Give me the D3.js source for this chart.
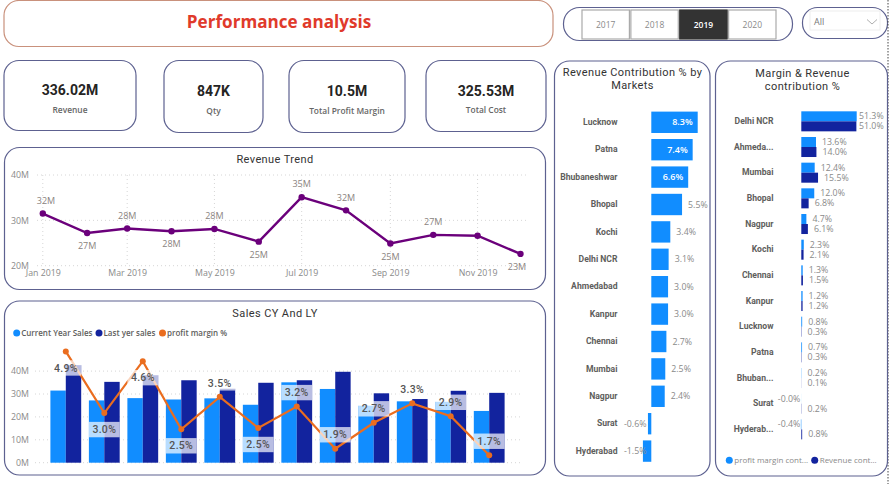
<!DOCTYPE html>
<html lang="en">
<head>
  <meta charset="UTF-8">
  <script src="https://cdn.jsdelivr.net/npm/d3@7"></script>
  <title>Performance analysis</title>
  <style>
    html, body { margin: 0; padding: 0; background: #fff; overflow: hidden; }
    svg { display: block; }
    .axis .domain { display: none; }
    .grid line { stroke: #d6d6d6; stroke-dasharray: 1 3; }
  </style>
</head>
<body>
  <svg></svg>
</body>
<script>
const width = 889;
const height = 484;

const titleFont = 'Roboto, sans-serif';
const labelFont = '"Open Sans", sans-serif';

// data
const years = ['2017', '2018', '2019', '2020'];
const selectedYear = '2019';
const kpiValues = ['336.02M', '847K', '10.5M', '325.53M'];
const kpiLabels = ['Revenue', 'Qty', 'Total Profit Margin', 'Total Cost'];

const months = ['2019-01-01', '2019-02-01', '2019-03-01', '2019-04-01', '2019-05-01', '2019-06-01',
  '2019-07-01', '2019-08-01', '2019-09-01', '2019-10-01', '2019-11-01', '2019-12-01'];
const revenue = [31.5, 27.2, 28.2, 27.6, 28.1, 25.3, 35.1, 32.2, 24.9, 26.8, 26.6, 22.6];
const lastYearSales = [42.6, 35.3, 38.2, 36.0, 32.3, 34.9, 36.0, 39.7, 30.3, 27.8, 31.4, 30.5];
const profitMargin = [4.9, 3.0, 4.6, 2.5, 3.5, 2.54, 3.2, 1.9, 2.7, 3.3, 2.9, 1.7];
const trendTicks = ['2019-01-01', '2019-03-01', '2019-05-01', '2019-07-01', '2019-09-01', '2019-11-01'];
// which side of the point each label sits on, 0 = no label
const trendLabelSide = [-1, 1, -1, 1, -1, 1, -1, -1, 1, -1, 0, 1];
const marginLabelSide = [1, 1, 1, 1, -1, 1, -1, -1, -1, -1, -1, -1];

const markets = ['Lucknow', 'Patna', 'Bhubaneshwar', 'Bhopal', 'Kochi', 'Delhi NCR', 'Ahmedabad',
  'Kanpur', 'Chennai', 'Mumbai', 'Nagpur', 'Surat', 'Hyderabad'];
const marketContribution = [8.3, 7.4, 6.6, 5.5, 3.4, 3.1, 3.0, 3.0, 2.7, 2.5, 2.4, -0.6, -1.5];

const marginMarkets = ['Delhi NCR', 'Ahmeda...', 'Mumbai', 'Bhopal', 'Nagpur', 'Kochi', 'Chennai',
  'Kanpur', 'Lucknow', 'Patna', 'Bhuban...', 'Surat', 'Hyderab...'];
const marginContribution = [51.3, 13.6, 12.4, 12.0, 4.7, 2.3, 1.3, 1.2, 0.8, 0.7, 0.2, -0.04, -0.4];
const revenueContribution = [51.0, 14.0, 15.5, 6.8, 6.1, 2.1, 1.5, 1.2, 0.3, 0.3, 0.1, 0.2, 0.8];

const colors = { cy: '#118DFF', ly: '#12239E', margin: '#EA6D1F', trend: '#6B007B' };

const svg = d3.select('svg').attr('width', width).attr('height', height)
  .attr('viewBox', `0 0 ${width} ${height}`);
const parseDate = d3.utcParse('%Y-%m-%d');
const pct = v => `${v.toFixed(1)}%`;

const addText = (layer, x, y, str, size, fill, opts = {}) => layer.append('text')
  .attr('x', x).attr('y', y).attr('dy', '0.35em')
  .attr('text-anchor', opts.anchor || 'middle')
  .attr('font-family', opts.font || labelFont)
  .attr('font-size', size)
  .attr('font-weight', opts.weight || 400)
  .attr('letter-spacing', opts.spacing || 0)
  .attr('fill', fill)
  .text(str);

const addPanel = (x, y, w, h, r = 15, stroke = '#5d6190') => svg.append('rect')
  .attr('x', x).attr('y', y).attr('width', w).attr('height', h).attr('rx', r)
  .attr('fill', '#fff').attr('stroke', stroke).attr('stroke-width', 1.2);

const styleAxis = (g, size, fill, weight = 400, font = labelFont) => {
  g.attr('class', 'axis');
  g.selectAll('text').attr('font-family', font).attr('font-size', size)
    .attr('font-weight', weight).attr('fill', fill);
  g.selectAll('.tick line').attr('stroke', 'none');
};

const paintHeader = () => {
  addPanel(4, 0.5, 549, 46, 15, '#c9917c');
  addText(svg, 279, 22, 'Performance analysis', 17.1, '#E03A2B', { weight: 700 });

  addPanel(563.5, 7.5, 229, 33, 16);
  const buttonX = d3.scaleBand().domain(years).range([582, 776]).paddingInner(0.03);
  years.forEach(year => {
    const on = year === selectedYear;
    svg.append('rect').attr('x', buttonX(year)).attr('y', 10).attr('width', buttonX.bandwidth())
      .attr('height', 29).attr('fill', on ? '#333' : '#fff')
      .attr('stroke', on ? '#333' : '#aaa').attr('stroke-width', 1.2);
    addText(svg, buttonX(year) + buttonX.bandwidth() / 2, 25, year, 8.5, on ? '#fff' : '#8a8a8a',
      { weight: on ? 600 : 400 });
  });

  addPanel(802.5, 7.5, 85, 31, 15);
  svg.append('rect').attr('x', 810).attr('y', 11).attr('width', 70).attr('height', 19)
    .attr('fill', '#fff').attr('stroke', '#eee');
  addText(svg, 814, 22, 'All', 9, '#777', { anchor: 'start' });
  svg.append('path').attr('d', 'M867 19.5 L872 24 L877 19.5').attr('fill', 'none')
    .attr('stroke', '#999').attr('stroke-width', 0.8);

  svg.append('line').attr('x1', 888).attr('x2', 888).attr('y1', 0).attr('y2', height)
    .attr('stroke', '#444').attr('stroke-dasharray', '1.5 1.5');
};

const paintKpis = () => {
  const cards = [
    { x: 4, w: 132, h: 70, vy: 90, ly: 110 },
    { x: 164, w: 99, h: 72, vy: 91, ly: 111 },
    { x: 289, w: 116, h: 72, vy: 91, ly: 111 },
    { x: 426, w: 120, h: 71, vy: 91, ly: 110 }
  ];
  cards.forEach((card, i) => {
    addPanel(card.x, 60.5, card.w, card.h);
    const cx = card.x + card.w / 2;
    addText(svg, cx, card.vy, kpiValues[i], 14, '#252423', { font: titleFont, weight: 700 });
    addText(svg, cx, card.ly, kpiLabels[i], 8.4, '#666', { weight: 600 });
  });
};

const paintTrend = () => {
  addPanel(4.5, 147.5, 541, 142);
  addText(svg, 275, 159, 'Revenue Trend', 11, '#333', { font: titleFont, spacing: 0.4 });

  const dates = months.map(parseDate);
  const x = d3.scaleUtc().domain(d3.extent(dates)).range([42.8, 520.5]);
  const y = d3.scaleLinear().domain([20, 40]).range([265.7, 175]);
  const tickDates = trendTicks.map(parseDate);

  const grid = svg.append('g').attr('class', 'grid');
  grid.selectAll('.h').data(y.ticks(2)).enter().append('line').attr('class', 'h')
    .attr('x1', 37).attr('x2', 528).attr('y1', y).attr('y2', y);
  grid.selectAll('.v').data(tickDates).enter().append('line').attr('class', 'v')
    .attr('x1', x).attr('x2', x).attr('y1', y(40)).attr('y2', y(20));

  svg.append('g').attr('transform', 'translate(33,0)')
    .call(d3.axisLeft(y).ticks(2).tickFormat(d => `${d}M`).tickSize(0).tickPadding(4))
    .call(styleAxis, 8.8, '#8a8a8a');
  svg.append('g').attr('transform', `translate(0,${y(20) + 3})`)
    .call(d3.axisBottom(x).tickValues(tickDates).tickFormat(d3.utcFormat('%b %Y')).tickSize(0).tickPadding(1))
    .call(styleAxis, 8.8, '#8a8a8a');

  const line = d3.line().x(d => x(d[0])).y(d => y(d[1]));
  const points = dates.map((d, i) => [d, revenue[i]]);
  svg.append('path').attr('d', line(points)).attr('fill', 'none')
    .attr('stroke', colors.trend).attr('stroke-width', 2.4);
  svg.selectAll('.trend-pt').data(points).enter().append('circle').attr('class', 'trend-pt')
    .attr('cx', d => x(d[0])).attr('cy', d => y(d[1])).attr('r', 3.2).attr('fill', colors.trend);

  points.forEach((d, i) => {
    if (!trendLabelSide[i]) return;
    const tx = Math.min(Math.max(x(d[0]), 46), 517);
    addText(svg, tx, y(d[1]) + trendLabelSide[i] * 13, `${Math.round(d[1])}M`, 9, '#8a8380');
  });
};

const paintCombo = () => {
  addPanel(4.5, 301, 541, 174);
  addText(svg, 275, 313, 'Sales CY And LY', 11, '#333', { font: titleFont, spacing: 0.4 });

  const legend = [
    { name: 'Current Year Sales', color: colors.cy, x: 16.7 },
    { name: 'Last yer sales', color: colors.ly, x: 99 },
    { name: 'profit margin %', color: colors.margin, x: 162.5 }
  ];
  legend.forEach(item => {
    svg.append('circle').attr('cx', item.x).attr('cy', 333).attr('r', 3.5).attr('fill', item.color);
    addText(svg, item.x + 4.5, 333, item.name, 8, '#605E5C', { anchor: 'start', weight: 600 });
  });

  const x = d3.scaleBand().domain(months).range([35, 520]).paddingInner(0.2).paddingOuter(0.4);
  const xSub = d3.scaleBand().domain(['cy', 'ly']).range([0, x.bandwidth()]);
  const y = d3.scaleLinear().domain([0, 50]).range([462.7, 348.2]);
  const yMargin = d3.scaleLinear().domain([1.47, 5]).range([462.7, 348.2]);

  svg.append('g').attr('class', 'grid').selectAll('line').data(d3.range(0, 50, 10)).enter().append('line')
    .attr('x1', 35).attr('x2', 520).attr('y1', y).attr('y2', y);
  svg.append('g').attr('transform', 'translate(33,0)')
    .call(d3.axisLeft(y).tickValues(d3.range(0, 50, 10)).tickFormat(d => `${d}M`).tickSize(0).tickPadding(4))
    .call(styleAxis, 8.8, '#8a8a8a');

  svg.selectAll('.bar-cy').data(months).enter().append('rect').attr('class', 'bar-cy')
    .attr('x', d => x(d) + xSub('cy')).attr('width', xSub.bandwidth())
    .attr('y', (d, i) => y(revenue[i])).attr('height', (d, i) => y(0) - y(revenue[i]))
    .attr('fill', colors.cy);
  svg.selectAll('.bar-ly').data(months).enter().append('rect').attr('class', 'bar-ly')
    .attr('x', d => x(d) + xSub('ly')).attr('width', xSub.bandwidth())
    .attr('y', (d, i) => y(lastYearSales[i])).attr('height', (d, i) => y(0) - y(lastYearSales[i]))
    .attr('fill', colors.ly);

  const cx = d => x(d) + x.bandwidth() / 2;
  const line = d3.line().x(d => cx(d)).y((d, i) => yMargin(profitMargin[i]));
  svg.append('path').attr('d', line(months)).attr('fill', 'none')
    .attr('stroke', colors.margin).attr('stroke-width', 2.2);
  svg.selectAll('.margin-pt').data(months).enter().append('circle').attr('class', 'margin-pt')
    .attr('cx', cx).attr('cy', (d, i) => yMargin(profitMargin[i])).attr('r', 3).attr('fill', colors.margin);

  // label chips go over the line, same as the original visual
  months.forEach((d, i) => {
    const side = marginLabelSide[i];
    const ly = yMargin(profitMargin[i]) + side * (side > 0 ? 16.5 : 14);
    svg.append('rect').attr('x', x(d)).attr('y', ly - 7.7).attr('width', x.bandwidth()).attr('height', 15.4)
      .attr('fill', '#fff').attr('fill-opacity', 0.7);
    addText(svg, cx(d), ly, pct(Math.round(profitMargin[i] * 10) / 10), 10.5, '#555',
      { font: titleFont, weight: 500, spacing: 0.3 });
  });
};

const paintMarkets = () => {
  addPanel(554.5, 61, 155.5, 415);
  addText(svg, 632.5, 72, 'Revenue Contribution % by', 11, '#333', { font: titleFont, spacing: 0.4 });
  addText(svg, 632.5, 85, 'Markets', 11, '#333', { font: titleFont, spacing: 0.4 });

  const zero = 651.3;
  const x = d3.scaleLinear().domain([0, 8.3]).range([zero, 697.7]);
  const y = d3.scaleBand().domain(markets).range([108.6, 464.8]).paddingInner(0.22).paddingOuter(0.11);

  svg.append('g').attr('transform', 'translate(617.5,0)')
    .call(d3.axisLeft(y).tickSize(0).tickPadding(0))
    .call(styleAxis, 8.6, '#605E5C', 700, titleFont);

  svg.selectAll('.bar-market').data(markets).enter().append('rect').attr('class', 'bar-market')
    .attr('x', (d, i) => Math.min(x(0), x(marketContribution[i])))
    .attr('width', (d, i) => Math.abs(x(marketContribution[i]) - x(0)))
    .attr('y', d => y(d)).attr('height', y.bandwidth()).attr('fill', colors.cy);

  markets.forEach((d, i) => {
    const v = marketContribution[i];
    const my = y(d) + y.bandwidth() / 2;
    if (v > 6) addText(svg, x(v) - 5, my, pct(v), 9, '#fff', { anchor: 'end', weight: 600 });
    else if (v > 0) addText(svg, x(v) + 6, my, pct(v), 8.8, '#8a8a8a', { anchor: 'start' });
    else addText(svg, 624, my, pct(v), 8.8, '#8a8a8a', { anchor: 'start' });
  });
};

const paintMargin = () => {
  addPanel(715.5, 61, 172, 415);
  addText(svg, 802.5, 73, 'Margin & Revenue', 11, '#333', { font: titleFont, spacing: 0.4 });
  addText(svg, 802.5, 86, 'contribution %', 11, '#333', { font: titleFont, spacing: 0.4 });

  const x = d3.scaleLinear().domain([0, 51.3]).range([801.3, 856.7]);
  const y = d3.scaleBand().domain(marginMarkets).range([108.5, 442.2]).paddingInner(0.22).paddingOuter(0.11);
  const ySub = d3.scaleBand().domain(['margin', 'revenue']).range([0, y.bandwidth()]);

  svg.append('g').attr('transform', 'translate(773.5,0)')
    .call(d3.axisLeft(y).tickSize(0).tickPadding(0))
    .call(styleAxis, 8.6, '#605E5C', 700, titleFont);

  const paintSeries = (key, values, color) => {
    svg.selectAll(`.bar-${key}`).data(marginMarkets).enter().append('rect').attr('class', `bar-${key}`)
      .attr('x', (d, i) => Math.min(x(0), x(values[i])))
      .attr('width', (d, i) => Math.abs(x(values[i]) - x(0)))
      .attr('y', d => y(d) + ySub(key)).attr('height', ySub.bandwidth()).attr('fill', color);
    marginMarkets.forEach((d, i) => {
      const v = values[i];
      const my = y(d) + ySub(key) + ySub.bandwidth() / 2;
      if (v < 0) addText(svg, x(0) - 1, my, pct(v), 8.8, '#8a8a8a', { anchor: 'end' });
      else addText(svg, Math.min(x(v) + 6, 859), my, pct(v), 8.8, '#8a8a8a', { anchor: 'start' });
    });
  };
  paintSeries('margin', marginContribution, colors.cy);
  paintSeries('revenue', revenueContribution, colors.ly);

  const legend = [
    { name: 'profit margin cont...', color: colors.cy, x: 729.3 },
    { name: 'Revenue cont...', color: colors.ly, x: 814.7 }
  ];
  legend.forEach(item => {
    svg.append('circle').attr('cx', item.x).attr('cy', 460.3).attr('r', 3.5).attr('fill', item.color);
    addText(svg, item.x + 5, 460.3, item.name, 8, '#8a8a8a', { anchor: 'start' });
  });
};

paintHeader();
paintKpis();
paintTrend();
paintCombo();
paintMarkets();
paintMargin();
</script>
</html>
